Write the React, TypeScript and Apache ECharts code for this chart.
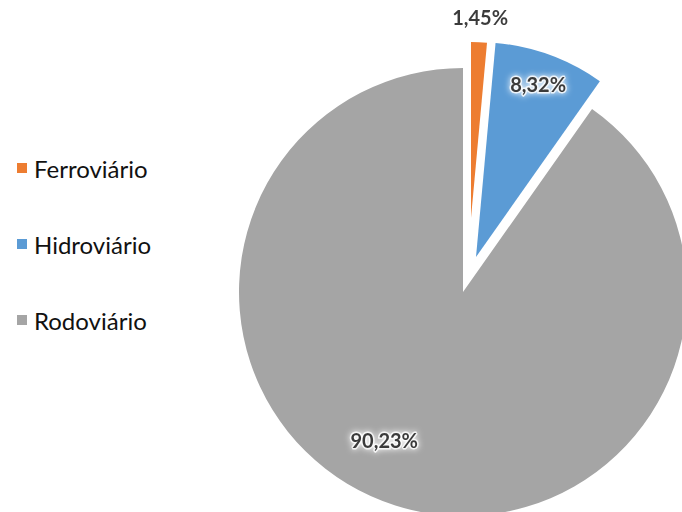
import React, { useEffect, useRef } from "react";
import * as echarts from "echarts";

const categories = ["Ferroviário", "Hidroviário", "Rodoviário"];
const values = [1.45, 8.32, 90.23];
const colors = ["#ED7D31", "#5B9BD5", "#A5A5A5"];

// layout (exploded slices, each drawn as its own pie layer)
const centers: [number, number][] = [
  [471, 218],
  [476, 257],
  [463, 292],
];
const radii = [176, 215, 224];
const labelShifts = [
  { dx: 5, dy: -110 },
  { dx: 24, dy: -69 },
  { dx: -44, dy: 38 },
];

export default function App() {
  const ref = useRef<HTMLDivElement>(null);
  useEffect(() => {
    document.body.style.margin = "0";
    if (!ref.current) return;
    const chart = echarts.init(ref.current, undefined, { renderer: "svg" });
    const font = "Lato, 'Noto Sans', sans-serif";
    const series = categories.map((_, i) => ({
      type: "pie",
      silent: true,
      center: centers[i],
      radius: radii[i],
      startAngle: 90,
      clockwise: true,
      avoidLabelOverlap: false,
      label: {
        show: true,
        position: "inside",
        formatter: (p: any) => p.value.toFixed(2).replace(".", ",") + "%",
        fontFamily: font,
        fontWeight: "bold",
        fontSize: 20,
        color: "#3a3a3a",
        textBorderColor: "rgba(255,255,255,0.8)",
        textBorderWidth: 3,
        textShadowColor: "#ffffff",
        textShadowBlur: 6,
      },
      labelLine: { show: false },
      labelLayout: labelShifts[i],
      emphasis: { disabled: true },
      data: categories.map((name, j) => ({
        name,
        value: values[j],
        itemStyle: { color: j === i ? colors[i] : "rgba(0,0,0,0)", borderWidth: 0 },
        label: { show: j === i },
      })),
    }));
    chart.setOption({
      animation: false,
      backgroundColor: "#ffffff",
      legend: {
        orient: "vertical",
        left: 12,
        top: 151,
        itemWidth: 10,
        itemHeight: 10,
        itemGap: 52,
        icon: "rect",
        selectedMode: false,
        textStyle: {
          fontFamily: font,
          fontSize: 24,
          lineHeight: 24,
          color: "#111111",
          padding: [0, 0, 0, 2],
        },
        data: categories.map((name, i) => ({
          name,
          itemStyle: { color: colors[i] },
        })),
      },
      series,
    });
    return () => chart.dispose();
  }, []);
  return <div ref={ref} style={{ width: 682, height: 512 }} />;
}
